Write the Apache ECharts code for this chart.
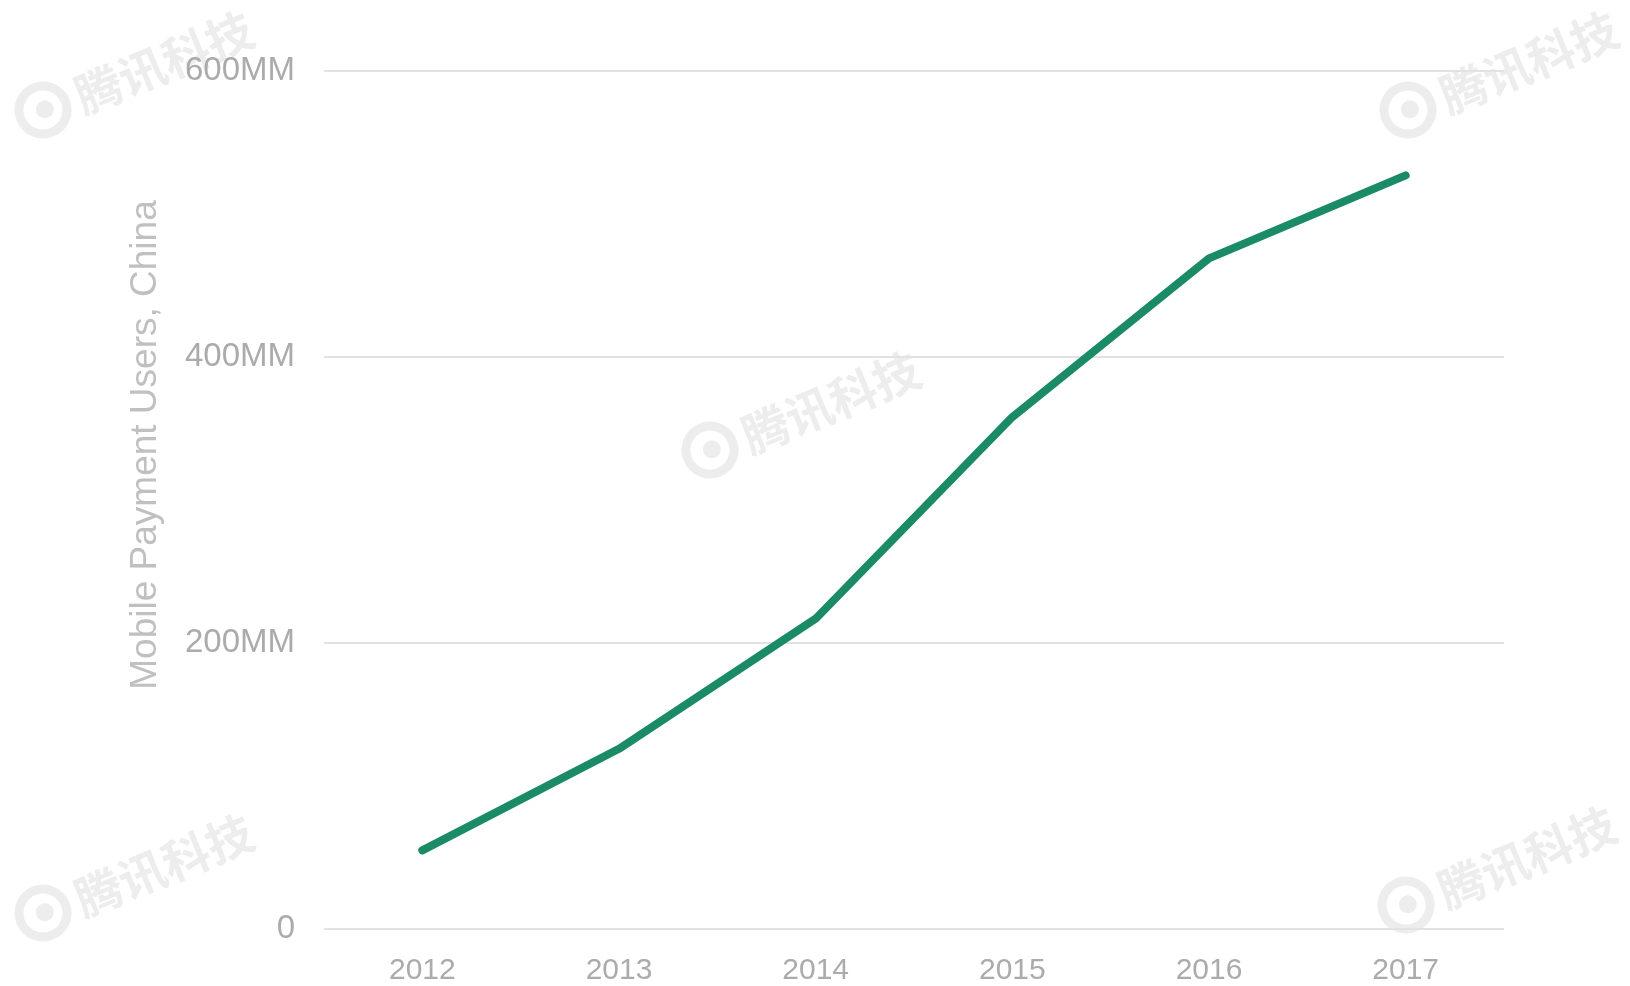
<!DOCTYPE html>
<html>
<head>
<meta charset="utf-8">
<script src="https://cdn.jsdelivr.net/npm/echarts@6/dist/echarts.min.js"></script>
<style>html,body{margin:0;padding:0;background:#fff;}#chart{width:1630px;height:986px;}</style>
</head>
<body>
<div id="chart"></div>
<script>
var years = ['2012', '2013', '2014', '2015', '2016', '2017'];
var users = [55, 126, 217, 358, 469, 527];
var yTicks = [0, 200, 400, 600];
var yTickLabels = ['0', '200MM', '400MM', '600MM'];
var yTitle = 'Mobile Payment Users, China';
var watermarkText = '腾讯科技';
var watermarkSpots = [[43, 110], [1408, 110], [710, 450], [43, 913], [1406, 905]];

var chart = echarts.init(document.getElementById('chart'));
var wmColor = '#ededed';
var graphics = watermarkSpots.map(function (p) {
  return {
    type: 'group', x: p[0], y: p[1], rotation: 0.39, z: -10, silent: true,
    children: [
      { type: 'circle', shape: { cx: 0, cy: 0, r: 24 }, style: { fill: 'none', stroke: wmColor, lineWidth: 9 } },
      { type: 'circle', shape: { cx: 2, cy: 0, r: 9 }, style: { fill: wmColor } },
      { type: 'text', x: 36, y: 2, style: { text: watermarkText, fill: wmColor, font: 'bold 47px "Noto Sans CJK SC"', textAlign: 'left', textVerticalAlign: 'middle' } }
    ]
  };
});

chart.setOption({
  backgroundColor: '#ffffff',
  animation: false,
  graphic: graphics,
  grid: { left: 324, right: 126, top: 71, bottom: 55.5 },
  xAxis: {
    type: 'category',
    data: years,
    boundaryGap: true,
    axisLine: { show: false },
    axisTick: { show: false },
    axisLabel: { color: '#ababab', fontSize: 30, fontFamily: 'Liberation Sans Narrow, Liberation Sans, Arial', margin: 27 }
  },
  yAxis: {
    type: 'value',
    min: 0, max: 600, interval: 200,
    name: yTitle,
    nameLocation: 'middle',
    nameGap: 160,
    nameTextStyle: { color: '#c0c0c0', fontSize: 37, fontFamily: 'Liberation Sans, Arial', padding: [0, 0, 0, 110] },
    axisLine: { show: false },
    axisTick: { show: false },
    splitLine: { lineStyle: { color: '#e2e2e2', width: 2 } },
    axisLabel: {
      color: '#ababab', fontSize: 33, fontFamily: 'Liberation Sans, Arial', margin: 29,
      formatter: function (v) { var i = yTicks.indexOf(v); return i >= 0 ? yTickLabels[i] : ''; }
    }
  },
  series: [{
    type: 'line',
    data: users,
    symbol: 'none',
    smooth: false,
    lineStyle: { color: '#1b8a66', width: 8, cap: 'round', join: 'round' },
    z: 5
  }]
});
</script>
</body>
</html>
